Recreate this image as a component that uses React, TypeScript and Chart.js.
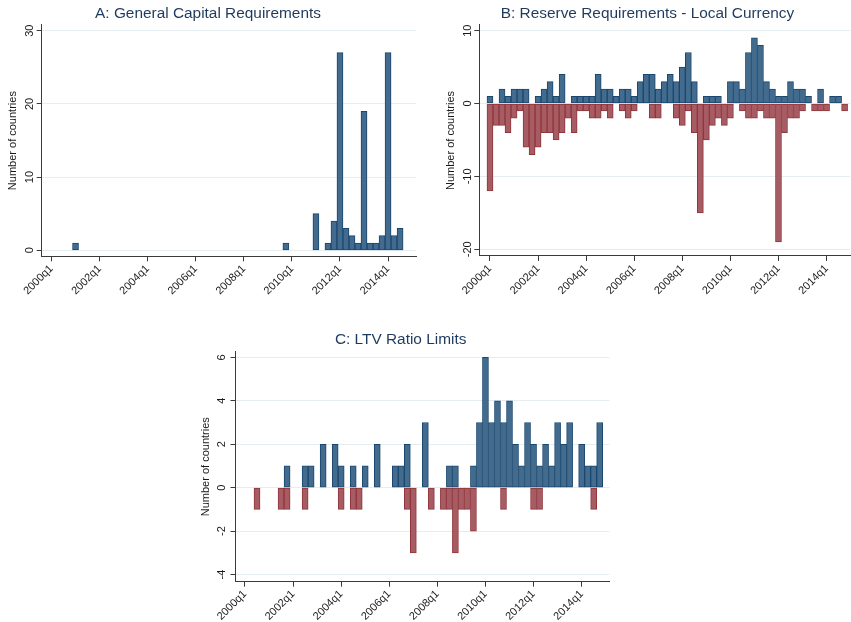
import { useEffect, useRef } from "react";
import { Chart, registerables } from "chart.js";

Chart.register(...registerables);

// Quarter index 0 = 2000q1 ... 59 = 2014q4
const quarterTickLabels = ["2000q1", "2002q1", "2004q1", "2006q1", "2008q1", "2010q1", "2012q1", "2014q1"];
const quarterTickStep = 8;

// A: General capital requirements (tightening counts)
const capitalTightening = [
  0, 0, 0, 0, 1, 0, 0, 0, 0, 0,
  0, 0, 0, 0, 0, 0, 0, 0, 0, 0,
  0, 0, 0, 0, 0, 0, 0, 0, 0, 0,
  0, 0, 0, 0, 0, 0, 0, 0, 0, 1,
  0, 0, 0, 0, 5, 0, 1, 4, 27, 3,
  2, 1, 19, 1, 1, 2, 27, 2, 3, 0,
];

// B: Reserve requirements in local currency
const reserveTightening = [
  1, 0, 2, 1, 2, 2, 2, 0, 1, 2,
  3, 1, 4, 0, 1, 1, 1, 1, 4, 2,
  2, 1, 2, 2, 1, 3, 4, 4, 2, 3,
  4, 3, 5, 7, 3, 0, 1, 1, 1, 0,
  3, 3, 2, 7, 9, 8, 3, 2, 1, 1,
  3, 2, 2, 1, 0, 2, 0, 1, 1, 0,
];
const reserveLoosening = [
  -12, -3, -3, -4, -2, -1, -6, -7, -6, -4,
  -4, -5, -4, -2, -4, -1, -1, -2, -2, -1,
  -2, 0, -1, -2, -1, 0, 0, -2, -2, 0,
  0, -2, -3, -1, -4, -15, -5, -3, -2, -3,
  -2, 0, -1, -2, -2, -1, -2, -2, -19, -4,
  -2, -2, -1, 0, -1, -1, -1, 0, 0, -1,
];

// C: LTV ratio limits
const ltvTightening = [
  0, 0, 0, 0, 0, 0, 0, 1, 0, 0,
  1, 1, 0, 2, 0, 2, 1, 0, 1, 0,
  1, 0, 2, 0, 0, 1, 1, 2, 0, 0,
  3, 0, 0, 0, 1, 1, 0, 0, 1, 3,
  6, 3, 4, 3, 4, 2, 1, 3, 2, 1,
  2, 1, 3, 2, 3, 0, 2, 1, 1, 3,
];
const ltvLoosening = [
  0, 0, -1, 0, 0, 0, -1, -1, 0, 0,
  -1, 0, 0, 0, 0, 0, -1, 0, -1, -1,
  0, 0, 0, 0, 0, 0, 0, -1, -3, 0,
  0, -1, 0, -1, -1, -3, -1, -1, -2, 0,
  0, 0, 0, -1, 0, 0, 0, 0, -1, -1,
  0, 0, 0, 0, 0, 0, 0, 0, -1, 0,
];

const FONT = '"Liberation Sans", Arial, Helvetica, sans-serif';
const TITLE_COLOR = "#1f3a5f";
const TEXT_COLOR = "#1a1a1a";
const AXIS_COLOR = "#3a3a3a";
const GRID_COLOR = "#e4eef0";
const BLUE = { fill: "#426b8e", border: "#1a476f" };
const RED = { fill: "#a75b63", border: "#90353b" };

type Series = { values: number[]; fill: string; border: string };
type PanelSpec = {
  title: string;
  series: Series[];
  yTicks: number[];
  yRange: [number, number];
  xRange: [number, number];
  box: { left: number; top: number; width: number; height: number };
  plotLeft: number;
  plotRight: number;
  plotBottom: number;
  titlePad: { top: number; bottom: number };
  yTitlePad: number;
  yTickPad: number;
};

const panels: PanelSpec[] = [
  {
    title: "A: General Capital Requirements",
    series: [{ values: capitalTightening, ...BLUE }],
    yTicks: [0, 10, 20, 30],
    yRange: [-0.82, 30.78],
    xRange: [-1.63, 60.65],
    box: { left: 0, top: 0, width: 417, height: 300 },
    plotLeft: 41.7,
    plotRight: 416,
    plotBottom: 256.3,
    titlePad: { top: 4.8, bottom: 1.7 },
    yTitlePad: 7,
    yTickPad: 0.6,
  },
  {
    title: "B: Reserve Requirements - Local Currency",
    series: [
      { values: reserveTightening, ...BLUE },
      { values: reserveLoosening, ...RED },
    ],
    yTicks: [-20, -10, 0, 10],
    yRange: [-20.92, 10.78],
    xRange: [-1.78, 59.9],
    box: { left: 445, top: 0, width: 406, height: 300 },
    plotLeft: 34.3,
    plotRight: 405,
    plotBottom: 256,
    titlePad: { top: 4.8, bottom: 1.7 },
    yTitlePad: 0.3,
    yTickPad: -2,
  },
  {
    title: "C: LTV Ratio Limits",
    series: [
      { values: ltvTightening, ...BLUE },
      { values: ltvLoosening, ...RED },
    ],
    yTicks: [-4, -2, 0, 2, 4, 6],
    yRange: [-4.33, 6.26],
    xRange: [-1.58, 60.6],
    box: { left: 192, top: 320, width: 419, height: 302 },
    plotLeft: 43.5,
    plotRight: 417.3,
    plotBottom: 261.7,
    titlePad: { top: 10.76, bottom: 2.46 },
    yTitlePad: 8.3,
    yTickPad: 3.9,
  },
];

function buildChart(canvas: HTMLCanvasElement, spec: PanelSpec) {
  return new Chart(canvas, {
    type: "bar",
    data: {
      datasets: spec.series.map((s) => ({
        data: s.values.map((v, i) => ({ x: i, y: v === 0 ? null : v })),
        backgroundColor: s.fill,
        borderColor: s.border,
        borderWidth: 1,
        borderSkipped: false,
        grouped: false,
        barPercentage: 1,
        categoryPercentage: 1,
      })),
    },
    options: {
      responsive: false,
      animation: false,
      devicePixelRatio: 1,
      events: [],
      layout: {
        autoPadding: false,
        padding: { left: 0, right: spec.box.width - spec.plotRight, top: 0, bottom: 0 },
      },
      plugins: {
        legend: { display: false },
        tooltip: { enabled: false },
        title: {
          display: true,
          text: spec.title,
          color: TITLE_COLOR,
          font: { family: FONT, size: 15.4, weight: "normal", lineHeight: 1.2 },
          padding: spec.titlePad,
        },
      },
      scales: {
        x: {
          type: "linear",
          min: spec.xRange[0],
          max: spec.xRange[1],
          offset: false,
          afterBuildTicks: (scale: any) => {
            scale.ticks = quarterTickLabels.map((_, k) => ({ value: k * quarterTickStep }));
          },
          afterFit: (scale: any) => {
            scale.height = spec.box.height - spec.plotBottom;
            scale.paddingLeft = 0;
            scale.paddingRight = 0;
          },
          ticks: {
            autoSkip: false,
            minRotation: 45,
            maxRotation: 45,
            padding: 1,
            color: TEXT_COLOR,
            font: { family: FONT, size: 11 },
            callback: (v: any) => quarterTickLabels[Math.round(Number(v) / quarterTickStep)] ?? "",
          },
          grid: { offset: false, drawOnChartArea: false, tickLength: 5, tickColor: AXIS_COLOR },
          border: { display: true, color: AXIS_COLOR, width: 1 },
        },
        y: {
          type: "linear",
          min: spec.yRange[0],
          max: spec.yRange[1],
          afterBuildTicks: (scale: any) => {
            scale.ticks = spec.yTicks.map((v) => ({ value: v }));
          },
          afterFit: (scale: any) => {
            scale.width = spec.plotLeft;
            scale.paddingTop = 0;
            scale.paddingBottom = 0;
          },
          ticks: {
            minRotation: 90,
            maxRotation: 90,
            crossAlign: "center",
            padding: spec.yTickPad,
            color: TEXT_COLOR,
            font: { family: FONT, size: 11 },
            callback: (v: any) => String(v),
          },
          grid: { offset: false, color: GRID_COLOR, lineWidth: 1, tickLength: 5, tickColor: AXIS_COLOR },
          border: { display: true, color: AXIS_COLOR, width: 1 },
          title: {
            display: true,
            text: "Number of countries",
            color: TEXT_COLOR,
            font: { family: FONT, size: 11, lineHeight: 1 },
            padding: { top: spec.yTitlePad, bottom: 0 },
          },
        },
      },
    } as any,
  });
}

function Panel({ spec }: { spec: PanelSpec }) {
  const ref = useRef<HTMLCanvasElement | null>(null);
  useEffect(() => {
    if (!ref.current) return;
    const chart = buildChart(ref.current, spec);
    return () => chart.destroy();
  }, [spec]);
  return (
    <canvas
      ref={ref}
      width={spec.box.width}
      height={spec.box.height}
      style={{
        position: "absolute",
        left: spec.box.left,
        top: spec.box.top,
        width: spec.box.width,
        height: spec.box.height,
      }}
    />
  );
}

export default function App() {
  return (
    <div
      style={{
        position: "absolute",
        left: 0,
        top: 0,
        width: 851,
        height: 622,
        background: "#ffffff",
        overflow: "hidden",
      }}
    >
      {panels.map((p) => (
        <Panel key={p.title} spec={p} />
      ))}
    </div>
  );
}
